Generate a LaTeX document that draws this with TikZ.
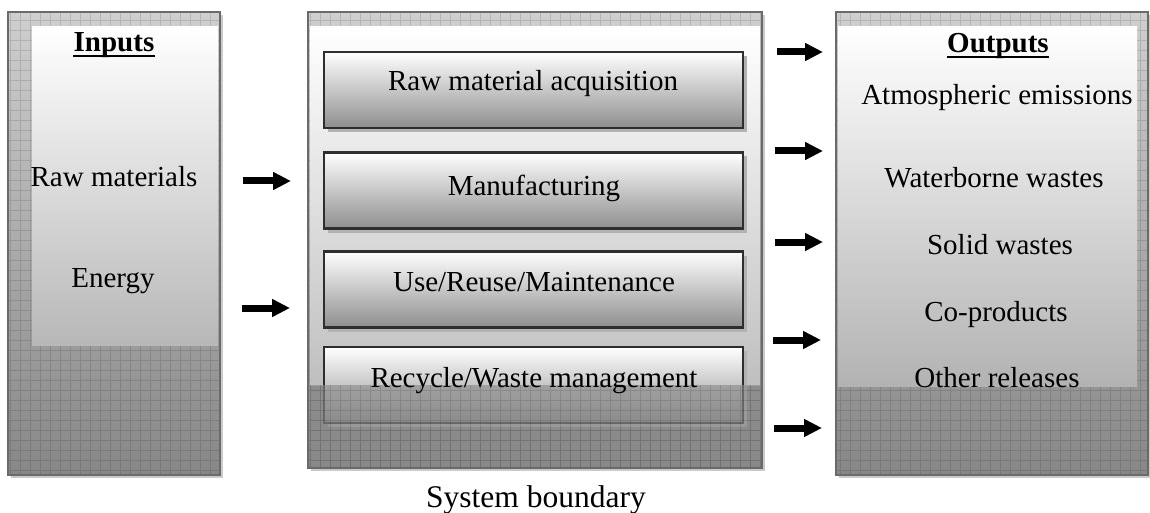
\documentclass[tikz,border=0pt]{standalone}
\usepackage{fontspec}
\setmainfont{Liberation Serif}
\usetikzlibrary{arrows.meta}
\definecolor{outerborder}{HTML}{6A6A6A}
\definecolor{shadowgrey}{HTML}{CACACA}
\definecolor{outertop}{HTML}{CFCFCF}
\definecolor{outerbottom}{HTML}{878787}
\definecolor{boxborder}{HTML}{2E2E2E}
\definecolor{procbottom}{HTML}{8E8E8E}
\definecolor{procshadow}{HTML}{B2B2B2}
\definecolor{lowergrey}{HTML}{8A8A8A}
\tikzset{
  x=1pt,y=1pt,
  txt/.style={inner sep=0pt, anchor=base, font=\fontsize{29}{34}\selectfont},
  boldtxt/.style={inner sep=0pt, anchor=base, font=\fontsize{29}{34}\selectfont\bfseries},
  flow/.style={line width=7pt, -{Triangle[length=18pt,width=17pt]}},
  gridlines/.style={draw=black, draw opacity=0.12, line width=0.8pt},
  outershadow/.style={fill=shadowgrey},
  outerfill/.style={top color=outertop, bottom color=outerbottom},
  outerline/.style={draw=outerborder, line width=2pt},
  procbox/.style={draw=boxborder, line width=2.5pt, top color=white, bottom color=procbottom,
                  minimum width=419, minimum height=76, inner sep=0pt},
  procshad/.style={fill=procshadow, minimum width=419, minimum height=76, inner sep=0pt},
}
\begin{document}
\begin{tikzpicture}
\useasboundingbox (0,0) rectangle (1150,-513);

% ---------- Left box (Inputs) ----------
\fill[outershadow] (11,-15) rectangle (223,-478);
\shade[outerfill] (8,-12) rectangle (220,-475);
\begin{scope}
  \clip (8,-12) rectangle (220,-475);
  \draw[gridlines, step=10] (0,-480) grid (230,0);
\end{scope}
\shade[top color=white, bottom color=black!28] (32,-27) rectangle (218,-345);
\draw[outerline] (8,-12) rectangle (220,-475);

% ---------- Middle box (System boundary) ----------
\fill[outershadow] (311,-15) rectangle (765,-471);
\shade[outerfill] (308,-12) rectangle (762,-468);
\begin{scope}
  \clip (308,-12) rectangle (762,-468);
  \draw[gridlines, step=10] (300,-480) grid (770,0);
\end{scope}
\shade[top color=white, bottom color=black!25] (310,-27) rectangle (760,-385);

\node[procshad] (s1) at (537.5,-94) {};
\node[procshad] (s2) at (537.5,-194.5) {};
\node[procshad] (s3) at (537.5,-293.5) {};
\node[procshad] (s4) at (537.5,-389) {};
\node[procbox] (p1) at (533.5,-90) {};
\node[procbox] (p2) at (533.5,-190.5) {};
\node[procbox] (p3) at (533.5,-289.5) {};
\node[procbox] (p4) at (533.5,-385) {};

\fill[lowergrey, fill opacity=0.62] (310,-385) rectangle (760,-466);
\begin{scope}
  \clip (310,-385) rectangle (760,-466);
  \draw[gridlines, step=10] (300,-480) grid (770,0);
\end{scope}
\draw[outerline] (308,-12) rectangle (762,-468);

% ---------- Right box (Outputs) ----------
\fill[outershadow] (839,-15) rectangle (1151,-478);
\shade[outerfill] (836,-12) rectangle (1148,-475);
\begin{scope}
  \clip (836,-12) rectangle (1148,-475);
  \draw[gridlines, step=10] (830,-480) grid (1150,0);
\end{scope}
\shade[top color=white, bottom color=black!30] (838,-27) rectangle (1137,-386);
\draw[outerline] (836,-12) rectangle (1148,-475);

% ---------- Texts ----------
\node[boldtxt] (inputs) at (114,-52) {Inputs};
\draw[line width=2pt] ([yshift=-4]inputs.base west) -- ([yshift=-4]inputs.base east);
\node[txt] (rawm) at (114,-186) {Raw materials};
\node[txt] (energy) at (113,-287) {Energy};

\node[txt] (t1) at (533,-91) {Raw material acquisition};
\node[txt] (t2) at (534,-195) {Manufacturing};
\node[txt] (t3) at (534,-291) {Use/Reuse/Maintenance};
\node[txt] (t4) at (534,-387) {Recycle/Waste management};
\node[inner sep=0pt, anchor=base, font=\fontsize{31.5}{36}\selectfont] (sysb) at (536,-507) {System boundary};

\node[boldtxt] (outputs) at (998,-53) {Outputs};
\draw[line width=2pt] ([yshift=-4]outputs.base west) -- ([yshift=-4]outputs.base east);
\node[txt] (o1) at (997,-105) {Atmospheric emissions};
\node[txt] (o2) at (994,-188) {Waterborne wastes};
\node[txt] (o3) at (1000,-254) {Solid wastes};
\node[txt] (o4) at (996,-321) {Co-products};
\node[txt] (o5) at (997,-387) {Other releases};

% ---------- Arrows ----------
\coordinate (la1) at (243,-181); \coordinate (lb1) at (291,-181);
\coordinate (la2) at (242,-308); \coordinate (lb2) at (290,-308);
\draw[flow] (la1) -- (lb1);
\draw[flow] (la2) -- (lb2);

\coordinate (ra1) at (777,-52);  \coordinate (rb1) at (823,-52);
\coordinate (ra2) at (775,-151); \coordinate (rb2) at (823,-151);
\coordinate (ra3) at (775,-242); \coordinate (rb3) at (823,-242);
\coordinate (ra4) at (773,-340); \coordinate (rb4) at (821,-340);
\coordinate (ra5) at (774,-428); \coordinate (rb5) at (822,-428);
\draw[flow] (ra1) -- (rb1);
\draw[flow] (ra2) -- (rb2);
\draw[flow] (ra3) -- (rb3);
\draw[flow] (ra4) -- (rb4);
\draw[flow] (ra5) -- (rb5);
\end{tikzpicture}
\end{document}
